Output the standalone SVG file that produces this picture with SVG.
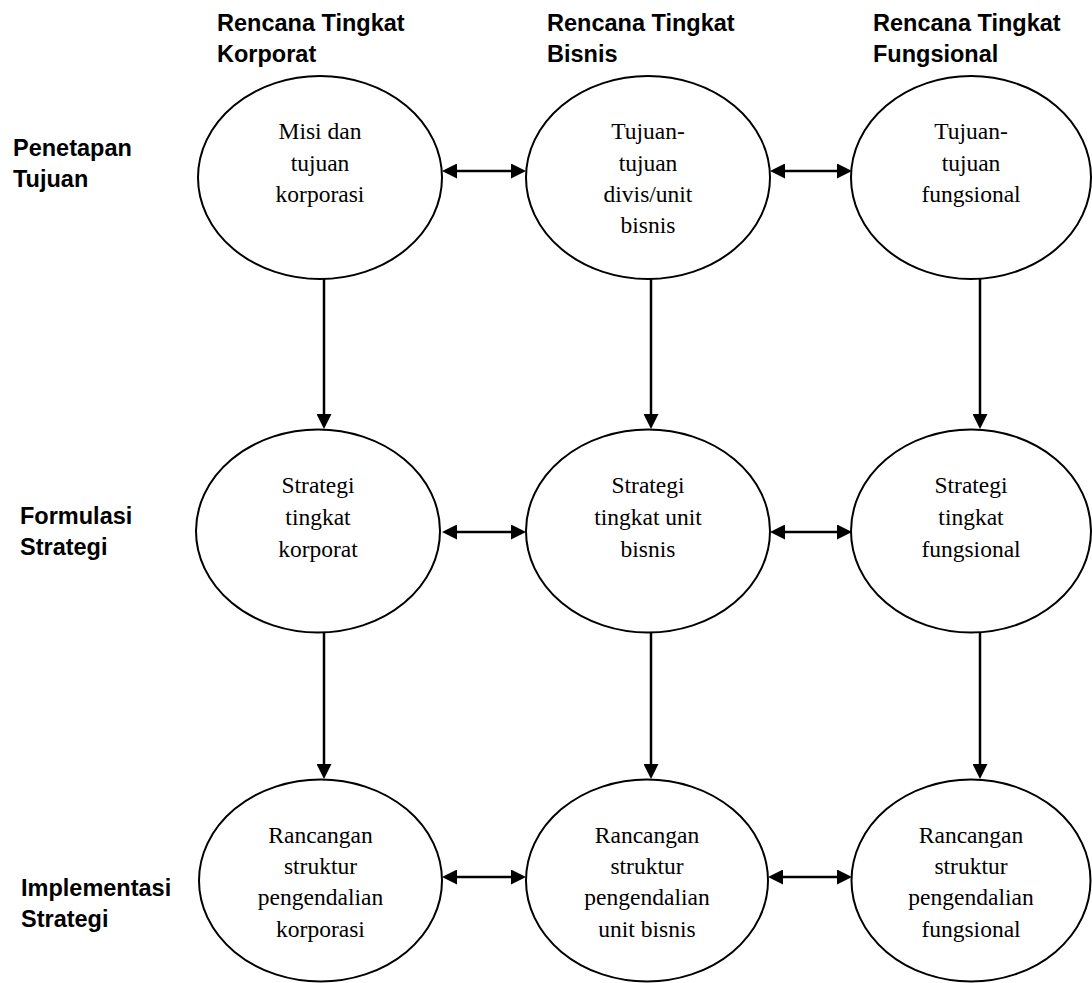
<svg xmlns="http://www.w3.org/2000/svg" width="1092" height="983" viewBox="0 0 1092 983">
<style>
.node ellipse{fill:#fff;stroke:#000;stroke-width:2}
.nt{font-family:"Liberation Serif","Times New Roman",serif;font-size:23.5px;text-anchor:middle;fill:#000}
.hd{font-family:"Liberation Sans",Arial,sans-serif;font-size:23.5px;font-weight:bold;fill:#000}
.conn line{stroke:#000;stroke-width:2.5;fill:none}
.one{marker-end:url(#ah)}
.two{marker-start:url(#ah);marker-end:url(#ah)}
</style>
<defs>
<marker id="ah" viewBox="0 0 15 15" refX="9" refY="7.5" markerWidth="15" markerHeight="15" markerUnits="userSpaceOnUse" orient="auto-start-reverse">
<path d="M0,0 L15,7.5 L0,15 Z" fill="#000"/>
</marker>
</defs>
<rect width="1092" height="983" fill="#fff"/>
<g id="headers">
<text class="hd" x="217" y="31">Rencana Tingkat</text>
<text class="hd" x="217" y="62">Korporat</text>
<text class="hd" x="547" y="31">Rencana Tingkat</text>
<text class="hd" x="547" y="62">Bisnis</text>
<text class="hd" x="873" y="31">Rencana Tingkat</text>
<text class="hd" x="873" y="62">Fungsional</text>
</g>
<g id="rowlabels">
<text class="hd" x="13" y="156">Penetapan</text>
<text class="hd" x="13" y="187">Tujuan</text>
<text class="hd" x="20" y="524">Formulasi</text>
<text class="hd" x="20" y="555">Strategi</text>
<text class="hd" x="21" y="896">Implementasi</text>
<text class="hd" x="21" y="927">Strategi</text>
</g>
<g id="connectors" class="conn">
<line class="two" x1="448" y1="171" x2="520" y2="171"/>
<line class="two" x1="776" y1="171" x2="846" y2="171"/>
<line class="two" x1="448" y1="532" x2="520" y2="532"/>
<line class="two" x1="776" y1="532" x2="846" y2="532"/>
<line class="two" x1="448" y1="877" x2="520" y2="877"/>
<line class="two" x1="774" y1="877" x2="846" y2="877"/>
<line class="one" x1="324" y1="279" x2="324" y2="423"/>
<line class="one" x1="651" y1="279" x2="651" y2="423"/>
<line class="one" x1="980" y1="278" x2="980" y2="423"/>
<line class="one" x1="324" y1="632" x2="324" y2="773"/>
<line class="one" x1="651" y1="632" x2="651" y2="773"/>
<line class="one" x1="980" y1="631" x2="980" y2="773"/>
</g>
<g id="n11" class="node">
<ellipse cx="320" cy="177.5" rx="122" ry="101.5"/>
<text class="nt"><tspan x="320" y="139">Misi dan</tspan><tspan x="320" y="170.5">tujuan</tspan><tspan x="320" y="202">korporasi</tspan></text>
</g>
<g id="n12" class="node">
<ellipse cx="648" cy="177.5" rx="122" ry="101.5"/>
<text class="nt"><tspan x="648" y="139">Tujuan-</tspan><tspan x="648" y="170.5">tujuan</tspan><tspan x="648" y="202">divis/unit</tspan><tspan x="648" y="233">bisnis</tspan></text>
</g>
<g id="n13" class="node">
<ellipse cx="971" cy="177.5" rx="120" ry="101.5"/>
<text class="nt"><tspan x="971" y="139">Tujuan-</tspan><tspan x="971" y="170.5">tujuan</tspan><tspan x="971" y="202">fungsional</tspan></text>
</g>
<g id="n21" class="node">
<ellipse cx="318" cy="531" rx="122" ry="101.5"/>
<text class="nt"><tspan x="318" y="493">Strategi</tspan><tspan x="318" y="525">tingkat</tspan><tspan x="318" y="557">korporat</tspan></text>
</g>
<g id="n22" class="node">
<ellipse cx="648" cy="531" rx="122" ry="101.5"/>
<text class="nt"><tspan x="648" y="493">Strategi</tspan><tspan x="648" y="525">tingkat unit</tspan><tspan x="648" y="557">bisnis</tspan></text>
</g>
<g id="n23" class="node">
<ellipse cx="971" cy="531" rx="120" ry="101.5"/>
<text class="nt"><tspan x="971" y="493">Strategi</tspan><tspan x="971" y="525">tingkat</tspan><tspan x="971" y="557">fungsional</tspan></text>
</g>
<g id="n31" class="node">
<ellipse cx="320.5" cy="880.5" rx="121.5" ry="101"/>
<text class="nt"><tspan x="320.5" y="843">Rancangan</tspan><tspan x="320.5" y="874">struktur</tspan><tspan x="320.5" y="905">pengendalian</tspan><tspan x="320.5" y="936.5">korporasi</tspan></text>
</g>
<g id="n32" class="node">
<ellipse cx="647" cy="880.5" rx="121" ry="101"/>
<text class="nt"><tspan x="647" y="843">Rancangan</tspan><tspan x="647" y="874">struktur</tspan><tspan x="647" y="905">pengendalian</tspan><tspan x="647" y="936.5">unit bisnis</tspan></text>
</g>
<g id="n33" class="node">
<ellipse cx="971" cy="880.5" rx="119.5" ry="101"/>
<text class="nt"><tspan x="971" y="843">Rancangan</tspan><tspan x="971" y="874">struktur</tspan><tspan x="971" y="905">pengendalian</tspan><tspan x="971" y="936.5">fungsional</tspan></text>
</g>
</svg>
